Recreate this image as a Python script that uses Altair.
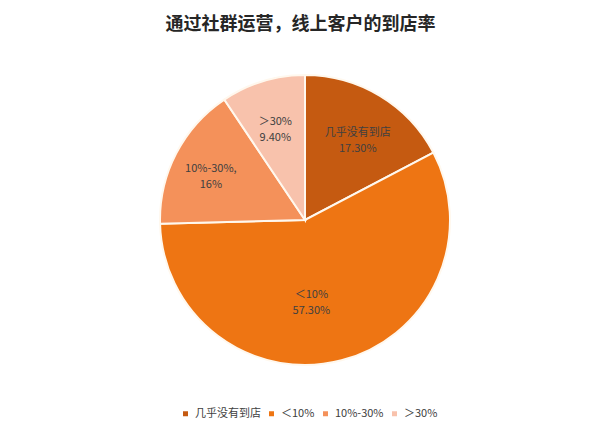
import altair as alt
import pandas as pd

categories = ["几乎没有到店", "＜10%", "10%-30%", "＞30%"]
values = [17.3, 57.3, 16.0, 9.4]
label_top = ["几乎没有到店", "＜10%", "10%-30%,", "＞30%"]
label_bottom = ["17.30%", "57.30%", "16%", "9.40%"]
colors = ["#C55A11", "#EE7513", "#F4915A", "#F8C2AC"]

df = pd.DataFrame({
    "cat": categories,
    "val": values,
    "order": list(range(len(categories))),
    "label": [a + "\n" + b for a, b in zip(label_top, label_bottom)],
})
total = float(sum(values))

FONT = "Noto Sans CJK SC"
CX, CY = 297, 182

pie = alt.Chart(df).mark_arc(radius=145, stroke="#FFF8EE", strokeWidth=2).encode(
    theta=alt.Theta("val:Q", stack=True),
    order=alt.Order("order:Q"),
    x=alt.value(CX),
    y=alt.value(CY),
    color=alt.Color(
        "cat:N",
        scale=alt.Scale(domain=categories, range=colors),
        sort=categories,
        legend=alt.Legend(
            title=None,
            orient="none",
            direction="horizontal",
            legendX=172,
            legendY=370,
            symbolType="square",
            symbolSize=25,
            symbolStrokeWidth=0,
            labelFont=FONT,
            labelFontSize=11,
            labelColor="#404040",
            labelOffset=4,
            columnPadding=5,
            symbolOffset=0,
        ),
    ),
)

text_base = (
    alt.Chart(df)
    .transform_window(cum="sum(val)", sort=[alt.SortField("order")], frame=[None, 0])
    .transform_calculate(mid="datum.cum - datum.val / 2")
    .encode(
        theta=alt.Theta("mid:Q", stack=None, scale=alt.Scale(domain=[0, total], range=[0, 6.283185307179586])),
        x=alt.value(CX),
        y=alt.value(CY),
        text="label:N",
    )
)

text_style = dict(font=FONT, fontSize=11, color="#404040", lineBreak="\n", lineHeight=16)

labels = text_base.mark_text(radius=102, **text_style).transform_filter(
    (alt.datum.cat != "＜10%") & (alt.datum.cat != "10%-30%")
)
label_mid = text_base.mark_text(radius=106, dy=-2, **text_style).transform_filter(alt.datum.cat == "10%-30%")
label_big = text_base.mark_text(radius=77, dx=-13, **text_style).transform_filter(alt.datum.cat == "＜10%")

chart = (
    alt.layer(pie, labels, label_mid, label_big)
    .resolve_scale(theta="independent")
    .properties(
        width=585,
        height=395,
        title=alt.TitleParams(
            "通过社群运营，线上客户的到店率",
            font=FONT,
            fontSize=18,
            fontWeight="bold",
            color="#262626",
            anchor="middle",
            offset=4,
        ),
        padding={"left": 0, "top": 8, "right": 0, "bottom": 0},
    )
    .configure_view(stroke=None)
)

chart.save("out.html", embed_options={"renderer": "svg", "actions": False})
